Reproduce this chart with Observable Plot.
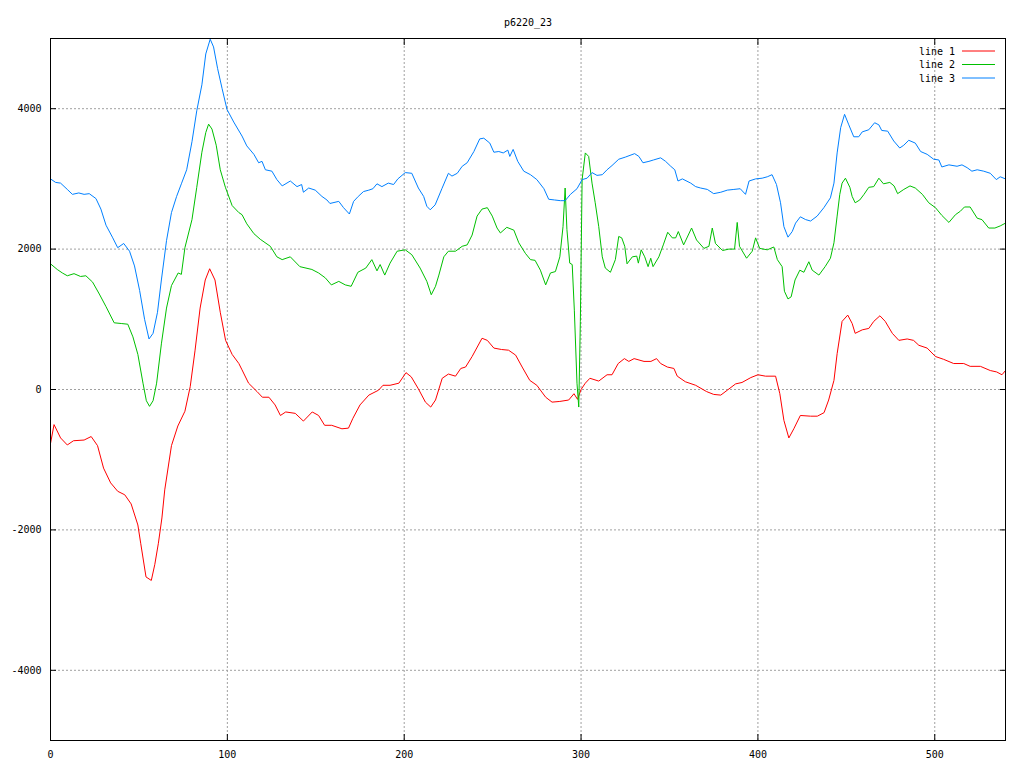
<!DOCTYPE html>
<html>
<head>
<meta charset="utf-8">
<script src="https://cdn.jsdelivr.net/npm/d3@7"></script>
<script src="https://cdn.jsdelivr.net/npm/@observablehq/plot@0.6"></script>
<style>
  html, body { margin: 0; padding: 0; background: #fff; }
  #chart svg { display: block; }
</style>
</head>
<body>
<div id="chart"></div>
<script>
const chartTitle = "p6220_23";
const seriesNames = ["line 1", "line 2", "line 3"];
const seriesColors = ["#ff0000", "#00c000", "#0080ff"];
const xTicks = [0, 100, 200, 300, 400, 500];
const yTicks = [-4000, -2000, 0, 2000, 4000];
const xDomain = [0, 540];
const yDomain = [-5000, 5000];

const line1X = [0,2,5.7,9.5,13,19,23,26.6,30,34,38,42,45.6,49.4,51,54,57,59,61,63,64.6,68.4,72,76,79,81.7,84.6,87.5,90,93,96,99,102.7,106.5,108.3,112,116.8,119.8,123.5,127,130,133,138.4,143,148,151.6,155,159,164.8,168.5,171,175,180,185.5,188,192,197,201,204,208,212,215,217.7,221.5,225,229,232,234.7,238.4,244,247,250.7,255,259,263,266.7,271,275,280,283.6,288,293,296,298,300,302.4,305,310,314.7,317.5,321,324.5,327,330,335.6,339.5,342.7,345,348.8,352.5,354.4,359,364.8,371,375,379,382.7,387.4,391,396,400,404.3,410,412.4,414.7,417.5,420.3,424,429.8,433.6,437.4,440,443,444.8,447.6,450.8,453.3,455,459,462.7,465.5,469,472,476,479.7,484.4,488,491,495.7,500.4,505,510.7,516.4,520,525.8,531.4,535,538,540];
const line1Y = [-770,-500,-690,-790,-730,-720,-670,-800,-1120,-1330,-1450,-1500,-1630,-1930,-2190,-2670,-2720,-2490,-2190,-1830,-1430,-800,-520,-310,40,550,1160,1560,1720,1560,1100,700,500,370,280,90,-30,-110,-110,-220,-370,-320,-340,-450,-320,-370,-510,-510,-560,-550,-410,-220,-80,-10,60,60,90,240,180,10,-180,-250,-150,160,220,190,300,320,470,730,700,590,570,560,490,320,130,60,-110,-180,-170,-150,-60,-140,0,90,160,120,210,210,370,440,400,440,400,400,440,370,320,300,190,110,60,-30,-70,-80,-10,80,100,170,210,190,190,-60,-440,-690,-560,-370,-380,-380,-330,-150,130,510,970,1060,940,800,850,870,970,1050,970,800,700,720,700,630,590,470,430,370,370,330,330,270,250,210,270];

const line2X = [0,3.8,6.7,9.5,13.3,17,20,23.8,27.6,31.4,36,40,43.7,46.6,49.4,52.3,54.2,56,58,60,62.7,65.6,68.4,72.2,74,76,80,82.7,85.6,87.8,89.4,91.3,93.7,96,98.9,102.7,106.5,108.3,111,115,118.6,124.3,128,131,135.6,141,147.8,151.6,155.4,158.8,163,166.7,170,173.8,178.3,181.7,184.6,186.4,189,192,196,200.6,204.3,209,212.8,215.3,217.7,219.6,222.4,225,229,232.8,235.6,238.4,241.2,244,247,249.8,252.5,254.4,258,262,264.8,268.5,271.4,274,277,280,282.7,285.5,288,289.8,291,292,293.6,295,296.2,297.7,298.7,299.6,300.6,302.4,304.3,306.2,308,310,312,313.7,316.6,319.4,321.3,323,324.7,326,329,331.5,332.4,334,336,337.9,339.4,340.7,344,346.5,349,351.6,353.5,355,358,362.5,365.3,369.5,372.3,374.2,376,380,383.6,386.8,388.3,389.6,393.6,396.8,398.7,401,405.3,409,411,413.7,415,417,418.8,421,423.7,426,428.8,430.7,434.5,438,441,443,444.8,446.3,447.6,449.5,452,453.3,455,457.6,460,462.7,465.5,468.4,471,474.6,477,479,482.5,486,489,493,496.6,500.4,504,508,511.7,514.5,516.8,520,524,526.7,530.5,534,537,540];
const line2Y = [1790,1710,1660,1620,1650,1610,1620,1530,1360,1180,950,940,930,750,500,90,-160,-240,-160,90,650,1160,1480,1660,1640,2020,2420,2880,3380,3660,3780,3710,3480,3130,2880,2620,2520,2490,2360,2220,2140,2040,1890,1850,1890,1750,1710,1660,1590,1490,1540,1490,1470,1670,1730,1850,1690,1780,1630,1800,1970,1990,1920,1730,1540,1350,1470,1630,1890,1970,1970,2040,2060,2200,2470,2570,2590,2470,2300,2230,2310,2270,2090,1940,1850,1840,1700,1490,1660,1680,1890,2320,2870,2280,1800,1780,1130,90,-250,970,2990,3370,3320,2940,2660,2320,1890,1730,1670,1850,2180,2160,2040,1790,1890,1900,1800,1990,1890,1750,1870,1750,1890,2060,2240,2160,2160,2250,2060,2300,2130,2010,2040,2300,2080,1980,2000,2000,2380,2040,1870,1970,2160,2010,1990,2030,1850,1750,1400,1290,1320,1560,1700,1670,1820,1700,1630,1750,1870,2090,2470,2780,2940,3010,2880,2750,2660,2700,2780,2880,2890,3010,2930,2950,2900,2790,2850,2900,2870,2780,2660,2590,2480,2380,2490,2540,2600,2600,2440,2420,2300,2300,2330,2370];

const line3X = [0,2.9,5.7,9.5,12.4,16,19,21.9,25.7,28.5,31.4,35,38,41.4,44.7,47.5,50.4,53.2,55.7,58,60.5,62.7,65.6,68.4,71.3,74,77,80,82.7,85.6,87.8,90.3,92.2,94.5,97,99.8,103.6,108.3,111,115,117.7,119.6,121.5,125.2,128,131,135.6,139.4,142,143,146,149.7,153.5,156.3,158,163,165.7,169,171.4,174,177,180,182.3,184.6,187.4,191,194,196.4,200.6,204.3,208,211,212.8,214.7,217.5,221.3,225,227,230,232.8,235.6,239.4,242.7,245,248.4,250.7,253.5,256,258.6,259.7,261.6,264.2,267.6,271.4,275,279,281.7,285,288.3,291,294,297.7,300.6,303.4,306.2,309,312,314.7,317.5,321.3,325,330.3,332.7,335,338.4,341,345,347.8,350.7,353,354.8,357.3,362,364.8,367.6,371.4,375,379,382.7,386.4,390,393,395,398.7,402.4,405.3,408,410.5,412.8,414.7,417,419.4,421.3,424,427,429.8,433.5,437.3,441,443,444.8,446.8,449,451.4,454.2,457,459,462.7,466,468.4,470,473.4,476.8,480.2,482.5,485.3,489,492,495.7,499.4,502.3,504,508,512.6,515.4,518.3,521,524,527.7,531.4,534.8,537,540];
const line3Y = [3000,2950,2940,2850,2780,2800,2780,2790,2720,2570,2340,2170,2020,2080,1970,1760,1410,1000,720,800,1100,1560,2120,2520,2750,2930,3130,3530,3970,4340,4780,4990,4880,4570,4290,3990,3810,3610,3470,3350,3230,3250,3130,3110,2990,2900,2970,2890,2920,2810,2870,2840,2750,2700,2650,2680,2590,2500,2680,2750,2820,2840,2860,2930,2890,2940,2920,3000,3090,3080,2870,2750,2610,2560,2630,2860,3080,3040,3080,3180,3230,3390,3570,3580,3510,3380,3390,3370,3410,3320,3420,3250,3110,3060,2990,2860,2710,2700,2690,2690,2780,2860,2990,3010,3090,3050,3060,3130,3190,3280,3310,3360,3320,3230,3250,3270,3300,3250,3180,3130,2970,3000,2940,2890,2870,2850,2790,2810,2840,2850,2860,2780,2970,3000,3010,3030,3060,2920,2660,2320,2170,2250,2370,2460,2420,2400,2470,2590,2730,2940,3370,3730,3920,3770,3600,3600,3670,3700,3800,3770,3690,3680,3540,3440,3480,3550,3510,3390,3350,3280,3270,3170,3200,3180,3200,3160,3110,3130,3110,3080,2990,3030,3000];

const seriesX = [line1X, line2X, line3X];
const seriesY = [line1Y, line2Y, line3Y];
const rows = [];
seriesNames.forEach((name, s) => {
  seriesX[s].forEach((x, i) => rows.push({series: name, x, y: seriesY[s][i]}));
});

const font = "'DejaVu Sans Mono', monospace";
const marginLeft = 50, marginRight = 19, marginTop = 38, marginBottom = 28;
const W = 1024, H = 768;

const plot = Plot.plot({
  width: W,
  height: H,
  marginLeft, marginRight, marginTop, marginBottom,
  style: {fontFamily: font, fontSize: "10px", color: "#000", background: "#fff"},
  x: {domain: xDomain, label: null},
  y: {domain: yDomain, label: null},
  color: {domain: seriesNames, range: seriesColors},
  marks: [
    Plot.gridX(xTicks, {stroke: "#a0a0a0", strokeOpacity: 1, strokeDasharray: "2,2"}),
    Plot.gridY(yTicks, {stroke: "#a0a0a0", strokeOpacity: 1, strokeDasharray: "2,2"}),
    Plot.line(rows, {x: "x", y: "y", z: "series", stroke: "series", strokeWidth: 1, clip: true}),
    Plot.frame({stroke: "#000"}),
    Plot.axisX(xTicks, {anchor: "bottom", tickSize: -6, fill: "none", label: null}),
    Plot.axisX(xTicks, {anchor: "top", tickSize: -6, fill: "none", label: null}),
    Plot.axisY(yTicks, {anchor: "left", tickSize: -6, fill: "none", label: null}),
    Plot.axisY(yTicks, {anchor: "right", tickSize: -6, fill: "none", label: null}),
    Plot.axisX(xTicks, {anchor: "bottom", tickSize: 0, tickPadding: 10, tickFormat: d => String(d), label: null}),
    Plot.axisY(yTicks, {anchor: "left", tickSize: 0, tickPadding: 9, tickFormat: d => String(d), label: null}),
    Plot.text([chartTitle], {frameAnchor: "top", dy: -20, fontSize: 10})
  ]
});

// legend inside the plot, top-right
const svg = d3.select(plot);
const rightEdge = W - marginRight;
const legend = svg.append("g").attr("font-family", font).attr("font-size", 10);
seriesNames.forEach((name, i) => {
  const yy = marginTop + 13 + i * 13.5;
  legend.append("text")
    .attr("x", rightEdge - 50).attr("y", yy)
    .attr("text-anchor", "end").attr("dominant-baseline", "central")
    .attr("fill", "#000").text(name);
  legend.append("line")
    .attr("x1", rightEdge - 43).attr("x2", rightEdge - 10)
    .attr("y1", yy).attr("y2", yy)
    .attr("stroke", seriesColors[i]).attr("stroke-width", 1);
});

document.getElementById("chart").appendChild(plot);
</script>
</body>
</html>
